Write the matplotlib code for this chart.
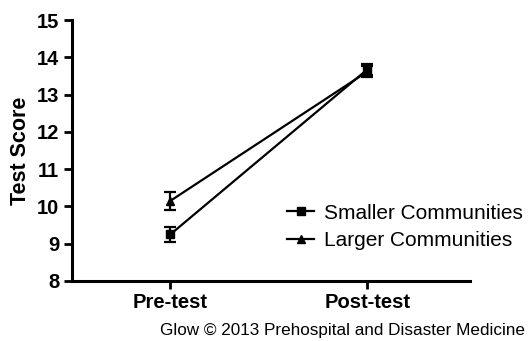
import matplotlib.pyplot as plt
from matplotlib.lines import Line2D

plt.rcParams['font.family'] = ['Liberation Sans', 'DejaVu Sans']

tests = ['Pre-test', 'Post-test']
smaller = [9.25, 13.68]
smaller_err = [0.2, 0.15]
larger = [10.15, 13.62]
larger_err = [0.25, 0.15]

fig = plt.figure(figsize=(5.28, 3.41), dpi=100)
ax = fig.add_axes([0.136, 0.176, 0.754, 0.765])

x = list(range(len(tests)))
ax.errorbar(x, smaller, yerr=smaller_err, color='black', marker='s', markersize=6,
            linewidth=1.6, capsize=4, capthick=1.6, elinewidth=1.6)
ax.errorbar(x, larger, yerr=larger_err, color='black', marker='^', markersize=6,
            linewidth=1.6, capsize=4, capthick=1.6, elinewidth=1.6)

ax.set_xlim(-0.5, 1.52)
ax.set_ylim(8, 15)
ax.set_xticks(x)
ax.set_xticklabels(tests, fontsize=14.5, fontweight='bold')
ax.set_yticks(range(8, 16))
ax.set_yticklabels([str(v) for v in range(8, 16)], fontsize=14.5, fontweight='bold')
ax.set_ylabel('Test Score', fontsize=15.5, fontweight='bold', labelpad=4)
for side in ['top', 'right']:
    ax.spines[side].set_visible(False)
for side in ['left', 'bottom']:
    ax.spines[side].set_linewidth(2.2)
ax.tick_params(width=2, length=6, pad=3)

handles = [Line2D([], [], color='black', marker='s', markersize=6, linewidth=1.6),
           Line2D([], [], color='black', marker='^', markersize=6, linewidth=1.6)]
labels = ['Smaller Communities', 'Larger Communities']
fig.legend(handles, labels, loc='center left', bbox_to_anchor=(0.532, 0.335), frameon=False,
           fontsize=15, handlelength=1.3, handletextpad=0.45, labelspacing=0.4,
           borderaxespad=0.0, borderpad=0.3)

fig.text(0.995, 0.008, 'Glow \u00a9 2013 Prehospital and Disaster Medicine', ha='right', va='bottom',
         fontsize=12.3)

fig.savefig('out.png', dpi=100)
